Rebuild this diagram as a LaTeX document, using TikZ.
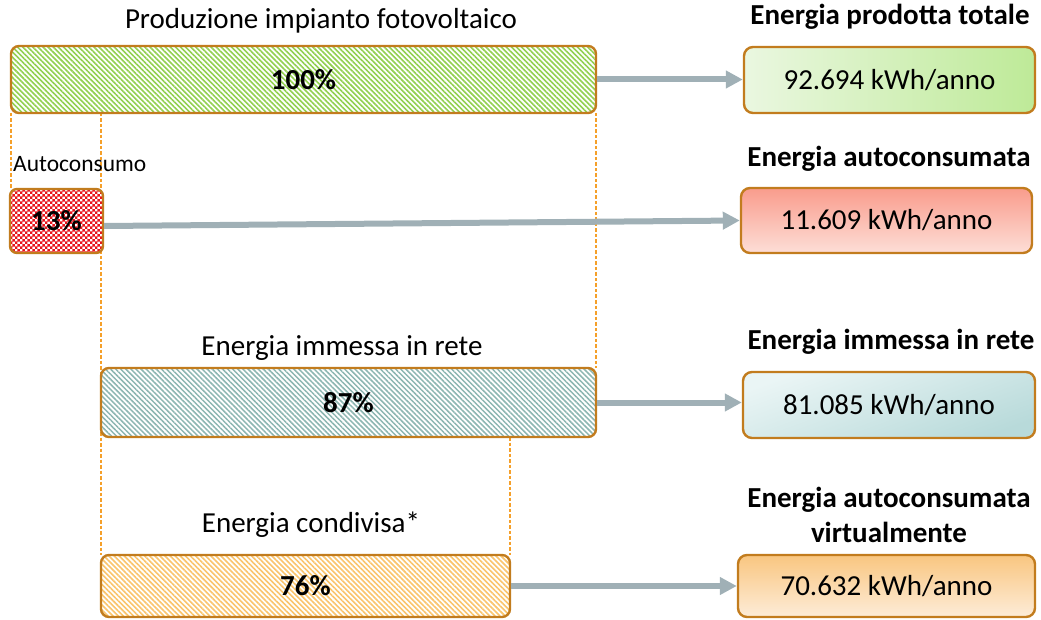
\documentclass[tikz,border=0pt]{standalone}
\usepackage{fontspec}
\setmainfont{Carlito}
\usetikzlibrary{patterns,patterns.meta,arrows.meta,calc}
\pgfdeclarepatternformonly{checkred}{\pgfpointorigin}{\pgfqpoint{5.4pt}{5.4pt}}{\pgfqpoint{5.4pt}{5.4pt}}{%
  \pgfpathrectangle{\pgfpointorigin}{\pgfqpoint{2.75pt}{2.75pt}}%
  \pgfpathrectangle{\pgfqpoint{2.7pt}{2.7pt}}{\pgfqpoint{2.75pt}{2.75pt}}%
  \pgfusepath{fill}}
\definecolor{brd}{HTML}{C27C1E}
\definecolor{arrc}{HTML}{A0B0B6}
\definecolor{dsh}{HTML}{F5A02A}
\definecolor{gstr}{HTML}{92D050}
\definecolor{tstr}{HTML}{8CB6B1}
\definecolor{ostr}{HTML}{FAC46C}
\definecolor{rchk}{HTML}{E8141B}
\begin{document}
\begin{tikzpicture}[x=1pt,y=-1pt,
  bigtxt/.style={font=\fontsize{29}{34}\selectfont},
  bartxt/.style={font=\fontsize{29}{34}\selectfont\bfseries},
  bar/.style={draw=brd,line width=2.4pt,rounded corners=8pt,inner sep=0pt,
    preaction={fill=white},bartxt},
  valbox/.style={draw=brd,line width=2.4pt,rounded corners=9pt,inner sep=0pt,bigtxt},
  ttl/.style={anchor=base,inner sep=0pt,bigtxt},
  bttl/.style={anchor=base,inner sep=0pt,font=\fontsize{29}{34}\selectfont\bfseries},
  arr/.style={draw=arrc,line width=6pt,-{Triangle[length=17pt,width=17pt]}},
  guide/.style={draw=dsh,line width=1.4pt,dash pattern=on 3.5pt off 2pt}]
\useasboundingbox (0,0) rectangle (1041,620);

% guide lines
\draw[guide] (11,113) -- (11,189);
\draw[guide] (101,113) -- (101,555);
\draw[guide] (596,113) -- (596,368);
\draw[guide] (510,437) -- (510,555);

% bars
\node[bar,minimum width=585pt,minimum height=67pt,
  pattern={Lines[angle=-45,distance=3.6pt,line width=1.6pt]},pattern color=gstr]
  (g) at (303.5,79.5) {100\%};
\node[bar,minimum width=93pt,minimum height=64pt,rounded corners=7pt,
  pattern=checkred,pattern color=rchk] (r) at (56.5,221) {13\%};
\node[bar,minimum width=495pt,minimum height=69pt,
  pattern={Lines[angle=-45,distance=3.6pt,line width=1.5pt]},pattern color=tstr]
  (t) at (348.5,402.5) {87\%};
\node[bar,minimum width=409pt,minimum height=62pt,
  pattern={Lines[angle=-45,distance=3.6pt,line width=1.6pt]},pattern color=ostr]
  (o) at (305.5,586) {76\%};

% left titles
\node[ttl] (lt1) at (321,29) {Produzione impianto fotovoltaico};
\node[anchor=base west,inner sep=0pt,font=\fontsize{23.5}{28}\selectfont] (lt2) at (13,172) {Autoconsumo};
\node[ttl] (lt3) at (342,355) {Energia immessa in rete};
\node[ttl] (lt4) at (311,532) {Energia condivisa*};

% right boxes
\node[valbox,minimum width=291pt,minimum height=66pt,
  left color={rgb,255:red,234;green,247;blue,224},right color={rgb,255:red,190;green,234;blue,152}]
  (b1) at (889.5,80) {92.694 kWh/anno};
\node[valbox,minimum width=291pt,minimum height=65pt,
  top color={rgb,255:red,249;green,156;blue,140},bottom color={rgb,255:red,253;green,222;blue,215}]
  (b2) at (886.5,220.5) {11.609 kWh/anno};
\node[valbox,minimum width=292pt,minimum height=66pt,
  top color={rgb,255:red,234;green,245;blue,245},bottom color={rgb,255:red,184;green,218;blue,218},shading angle=20]
  (b3) at (889,405) {81.085 kWh/anno};
\node[valbox,minimum width=297pt,minimum height=62pt,
  top color={rgb,255:red,249;green,198;blue,128},bottom color={rgb,255:red,253;green,236;blue,216}]
  (b4) at (886.5,586) {70.632 kWh/anno};

% right titles
\node[bttl] (rt1) at (890,25) {Energia prodotta totale};
\node[bttl] (rt2) at (889,166.5) {Energia autoconsumata};
\node[bttl] (rt3) at (891,349) {Energia immessa in rete};
\node[bttl] (rt4a) at (889,507) {Energia autoconsumata};
\node[bttl] (rt4b) at (889,542) {virtualmente};

% arrows
\draw[arr] (g.east) -- (g.east -| b1.west);
\draw[arr] ($(r.east)+(0,5)$) -- (b2.west);
\draw[arr] (t.east) -- (t.east -| b3.west);
\draw[arr] (o.east) -- (o.east -| b4.west);
\end{tikzpicture}
\end{document}
